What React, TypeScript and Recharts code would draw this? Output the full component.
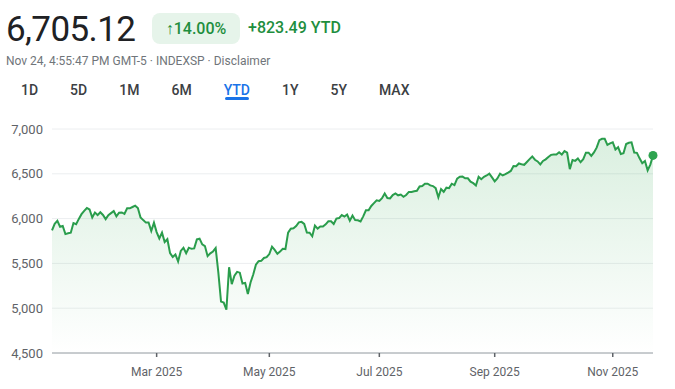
import React from "react";
import {
  AreaChart,
  Area,
  XAxis,
  YAxis,
  CartesianGrid,
} from "recharts";

// S&P 500 daily closes, 2025 YTD (one entry per trading session)
const tradingDays = [
  "Jan 2", "Jan 3", "Jan 6", "Jan 7", "Jan 8", "Jan 10", "Jan 13", "Jan 14", "Jan 15", "Jan 16",
  "Jan 17", "Jan 21", "Jan 22", "Jan 23", "Jan 24", "Jan 27", "Jan 28", "Jan 29", "Jan 30", "Jan 31",
  "Feb 3", "Feb 4", "Feb 5", "Feb 6", "Feb 7", "Feb 10", "Feb 11", "Feb 12", "Feb 13", "Feb 14",
  "Feb 18", "Feb 19", "Feb 20", "Feb 21", "Feb 24", "Feb 25", "Feb 26", "Feb 27", "Feb 28",
  "Mar 3", "Mar 4", "Mar 5", "Mar 6", "Mar 7", "Mar 10", "Mar 11", "Mar 12", "Mar 13", "Mar 14",
  "Mar 17", "Mar 18", "Mar 19", "Mar 20", "Mar 21", "Mar 24", "Mar 25", "Mar 26", "Mar 27", "Mar 28", "Mar 31",
  "Apr 1", "Apr 2", "Apr 3", "Apr 4", "Apr 7", "Apr 8", "Apr 9", "Apr 10", "Apr 11", "Apr 14",
  "Apr 15", "Apr 16", "Apr 17", "Apr 21", "Apr 22", "Apr 23", "Apr 24", "Apr 25", "Apr 28", "Apr 29", "Apr 30",
  "May 1", "May 2", "May 5", "May 6", "May 7", "May 8", "May 9", "May 12", "May 13", "May 14",
  "May 15", "May 16", "May 19", "May 20", "May 21", "May 22", "May 23", "May 27", "May 28", "May 29", "May 30",
  "Jun 2", "Jun 3", "Jun 4", "Jun 5", "Jun 6", "Jun 9", "Jun 10", "Jun 11", "Jun 12", "Jun 13",
  "Jun 16", "Jun 17", "Jun 18", "Jun 20", "Jun 23", "Jun 24", "Jun 25", "Jun 26", "Jun 27", "Jun 30",
  "Jul 1", "Jul 2", "Jul 3", "Jul 7", "Jul 8", "Jul 9", "Jul 10", "Jul 11", "Jul 14", "Jul 15", "Jul 16",
  "Jul 17", "Jul 18", "Jul 21", "Jul 22", "Jul 23", "Jul 24", "Jul 25", "Jul 28", "Jul 29", "Jul 30", "Jul 31",
  "Aug 1", "Aug 4", "Aug 5", "Aug 6", "Aug 7", "Aug 8", "Aug 11", "Aug 12", "Aug 13", "Aug 14", "Aug 15",
  "Aug 18", "Aug 19", "Aug 20", "Aug 21", "Aug 22", "Aug 25", "Aug 26", "Aug 27", "Aug 28", "Aug 29",
  "Sep 2", "Sep 3", "Sep 4", "Sep 5", "Sep 8", "Sep 9", "Sep 10", "Sep 11", "Sep 12", "Sep 15", "Sep 16",
  "Sep 17", "Sep 18", "Sep 19", "Sep 22", "Sep 23", "Sep 24", "Sep 25", "Sep 26", "Sep 29", "Sep 30",
  "Oct 1", "Oct 2", "Oct 3", "Oct 6", "Oct 7", "Oct 8", "Oct 9", "Oct 10", "Oct 13", "Oct 14", "Oct 15", "Oct 16",
  "Oct 17", "Oct 20", "Oct 21", "Oct 22", "Oct 23", "Oct 24", "Oct 27", "Oct 28", "Oct 29", "Oct 30", "Oct 31",
  "Nov 3", "Nov 4", "Nov 5", "Nov 6", "Nov 7", "Nov 10", "Nov 11", "Nov 12", "Nov 13", "Nov 14",
  "Nov 17", "Nov 18", "Nov 19", "Nov 20", "Nov 21", "Nov 24",
];

const closes = [
  5868.55, 5942.47, 5975.38, 5909.03, 5918.25, 5827.04, 5836.22, 5842.91, 5949.91, 5937.34,
  5996.66, 6049.24, 6086.37, 6118.71, 6101.24, 6012.28, 6067.7, 6039.31, 6071.17, 6040.53,
  5994.57, 6037.88, 6061.48, 6083.57, 6025.99, 6066.44, 6068.5, 6051.97, 6115.07, 6114.63,
  6129.58, 6144.15, 6117.52, 6013.13, 5983.25, 5955.25, 5956.06, 5861.57, 5954.5,
  5849.72, 5778.15, 5842.63, 5738.52, 5770.2, 5614.56, 5572.07, 5599.3, 5521.52, 5638.94,
  5675.12, 5614.66, 5675.29, 5662.89, 5667.56, 5767.57, 5776.65, 5712.2, 5693.31, 5580.94, 5611.85,
  5633.07, 5670.97, 5396.52, 5074.08, 5062.25, 4982.77, 5456.9, 5268.05, 5363.36, 5405.97,
  5396.63, 5275.7, 5282.7, 5158.2, 5287.76, 5375.86, 5484.77, 5525.21, 5528.75, 5560.83, 5569.06,
  5604.14, 5686.67, 5650.38, 5606.91, 5631.28, 5663.94, 5659.91, 5844.19, 5886.55, 5892.58,
  5916.93, 5958.38, 5963.6, 5940.46, 5844.61, 5842.01, 5802.82, 5921.54, 5888.55, 5912.17, 5911.69,
  5935.94, 5970.37, 5970.81, 5939.3, 6000.36, 6005.88, 6038.81, 6022.24, 6045.26, 5976.97,
  6033.11, 5982.72, 5980.87, 5967.84, 6025.17, 6092.18, 6092.16, 6141.02, 6173.07, 6204.95,
  6198.01, 6227.42, 6279.35, 6229.98, 6225.52, 6263.26, 6280.46, 6259.75, 6268.56, 6243.76, 6263.7,
  6297.36, 6296.79, 6305.6, 6309.62, 6358.91, 6363.35, 6388.64, 6389.77, 6370.86, 6362.9, 6339.39,
  6238.01, 6329.94, 6299.19, 6345.06, 6340.0, 6389.45, 6373.45, 6445.76, 6466.58, 6468.54, 6449.8,
  6449.15, 6411.37, 6395.78, 6370.17, 6466.91, 6439.32, 6465.94, 6481.4, 6501.86, 6460.26,
  6415.54, 6448.26, 6502.08, 6481.5, 6495.15, 6512.61, 6532.04, 6587.47, 6584.29, 6615.28, 6606.76,
  6600.35, 6631.96, 6664.36, 6693.75, 6656.92, 6637.97, 6604.72, 6643.7, 6661.21, 6688.46,
  6711.2, 6715.35, 6715.79, 6740.28, 6714.59, 6753.72, 6735.11, 6552.51, 6654.72, 6644.31, 6671.06, 6629.07,
  6664.01, 6735.13, 6735.35, 6699.4, 6738.44, 6791.69, 6875.16, 6890.89, 6890.59, 6822.34, 6840.2,
  6851.97, 6771.55, 6796.29, 6720.32, 6728.8, 6832.43, 6846.61, 6850.92, 6737.49, 6734.11,
  6672.41, 6617.32, 6642.16, 6538.76, 6602.99, 6705.12,
];

const yTicks = [4500, 5000, 5500, 6000, 6500, 7000];
const xTickDays = ["Mar 3", "May 1", "Jul 1", "Sep 2", "Nov 3"];
const xTickLabels = ["Mar 2025", "May 2025", "Jul 2025", "Sep 2025", "Nov 2025"];
const ranges = ["1D", "5D", "1M", "6M", "YTD", "1Y", "5Y", "MAX"];

const data = tradingDays.map((date, i) => ({ date, close: closes[i] }));

const FONT = "Roboto, Arial, sans-serif";
const GREEN = "#1e8e3e";
const LINE = "#2a9d4c";

document.body.style.margin = "0";

// only the last session gets a marker
const EndDot = (props: any) => {
  const { cx, cy, index } = props;
  if (index !== closes.length - 1) return <g key={`d-${index}`} />;
  return <circle key={`d-${index}`} cx={cx} cy={cy} r={4.5} fill="#2ea44f" />;
};

export default function App() {
  return (
    <div
      style={{
        position: "relative",
        width: 675,
        height: 389,
        background: "#fff",
        fontFamily: FONT,
        overflow: "hidden",
      }}
    >
      <div
        style={{
          position: "absolute",
          left: 6,
          top: 10,
          fontSize: 35,
          letterSpacing: -0.6,
          color: "#202124",
          lineHeight: "40px",
        }}
      >
        6,705.12
      </div>
      <div
        style={{
          position: "absolute",
          left: 152,
          top: 13,
          width: 88,
          height: 31,
          borderRadius: 8,
          background: "#e6f4ea",
          color: GREEN,
          fontSize: 16,
          fontWeight: 500,
          display: "flex",
          alignItems: "center",
          justifyContent: "center",
        }}
      >
        ↑14.00%
      </div>
      <div
        style={{
          position: "absolute",
          left: 248,
          top: 18,
          fontSize: 16,
          fontWeight: 500,
          color: GREEN,
          lineHeight: "20px",
        }}
      >
        +823.49 YTD
      </div>
      <div
        style={{
          position: "absolute",
          left: 6,
          top: 53,
          fontSize: 12,
          color: "#70757a",
          lineHeight: "16px",
        }}
      >
        Nov 24, 4:55:47 PM GMT-5 · INDEXSP · Disclaimer
      </div>
      <div
        style={{
          position: "absolute",
          left: 21,
          top: 81,
          display: "flex",
          gap: 32,
          fontSize: 14,
          fontWeight: 500,
          lineHeight: "18px",
        }}
      >
        {ranges.map((r) => (
          <div
            key={r}
            style={{
              position: "relative",
              color: r === "YTD" ? "#1a73e8" : "#3c4043",
            }}
          >
            {r}
            {r === "YTD" && (
              <div
                style={{
                  position: "absolute",
                  left: 1,
                  right: 1,
                  top: 16,
                  height: 3,
                  borderRadius: 2,
                  background: "#1a73e8",
                }}
              />
            )}
          </div>
        ))}
      </div>

      <div style={{ position: "absolute", left: 0, top: 110 }}>
        <AreaChart
          width={675}
          height={279}
          data={data}
          margin={{ top: 19, right: 22, left: 0, bottom: 0 }}
        >
          <defs>
            <linearGradient id="ytdFill" x1="0" y1="0" x2="0" y2="1">
              <stop offset="0%" stopColor="#34a853" stopOpacity={0.3} />
              <stop offset="100%" stopColor="#34a853" stopOpacity={0} />
            </linearGradient>
          </defs>
          <CartesianGrid vertical={false} stroke="#eceef0" />
          <XAxis
            dataKey="date"
            ticks={xTickDays}
            interval={0}
            tickFormatter={(d: string) => xTickLabels[xTickDays.indexOf(d)]}
            height={36}
            tickSize={4}
            tickMargin={10}
            axisLine={{ stroke: "#9aa0a6" }}
            tickLine={{ stroke: "#5f6368", strokeWidth: 1.5 }}
            tick={{ fontSize: 12, fill: "#5f6368", fontFamily: FONT }}
          />
          <YAxis
            domain={[4500, 7000]}
            ticks={yTicks}
            width={52}
            axisLine={false}
            tickLine={false}
            tickSize={0}
            tickMargin={9}
            tickFormatter={(v: number) => v.toLocaleString("en-US")}
            tick={{ fontSize: 13, fill: "#5f6368", fontFamily: FONT }}
          />
          <Area
            type="linear"
            dataKey="close"
            stroke={LINE}
            strokeWidth={2}
            fill="url(#ytdFill)"
            dot={EndDot}
            activeDot={false}
            isAnimationActive={false}
          />
        </AreaChart>
      </div>
    </div>
  );
}
